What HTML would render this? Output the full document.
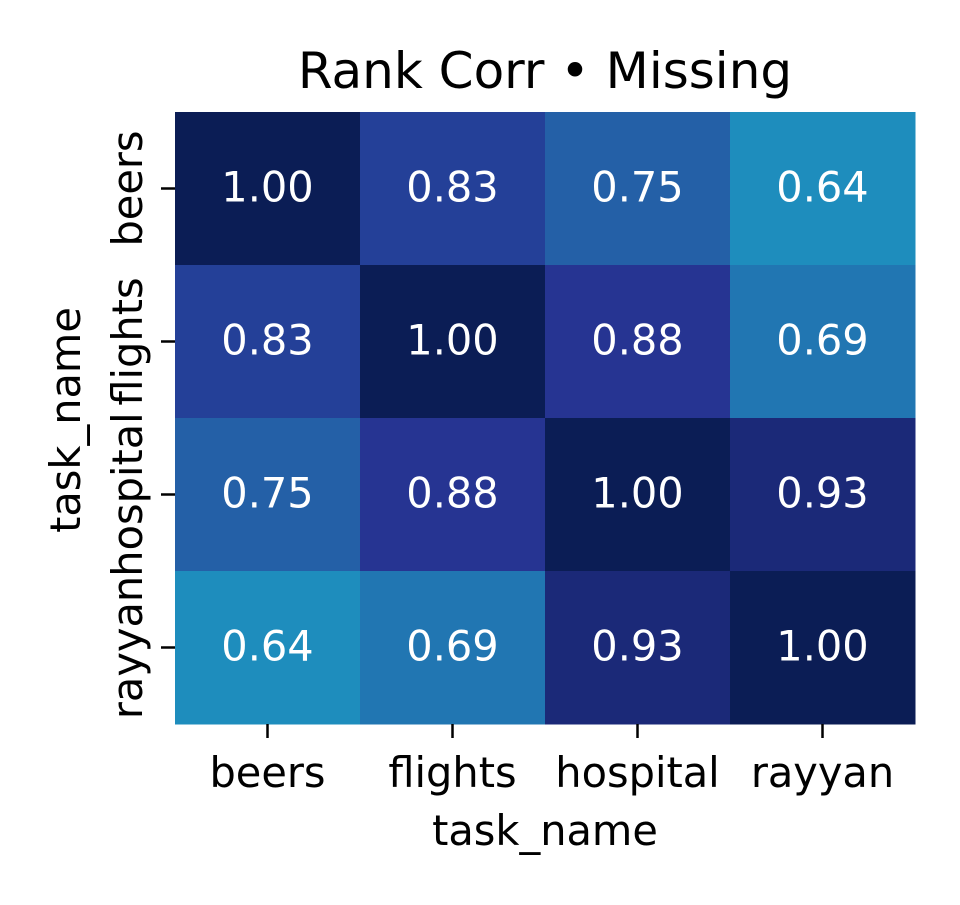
<!DOCTYPE html>
<html><head><meta charset="utf-8"><style>
body{margin:0;background:#fff;}
svg text{font-family:"DejaVu Sans","Liberation Sans",sans-serif;}
</style></head><body>
<svg id="chart" width="960" height="900" viewBox="0 0 960 900">
<rect width="960" height="900" fill="#fff"/>
<text x="545" y="88" font-size="50" text-anchor="middle" fill="#000">Rank Corr • Missing</text>
<g id="cells"></g>
<g id="xticks"></g>
<g id="yticks"></g>
<text x="545" y="845" font-size="41.5" text-anchor="middle" fill="#000">task_name</text>
<text transform="translate(80,420) rotate(-90)" font-size="41.5" text-anchor="middle" fill="#000">task_name</text>
</svg>
<script>
const categories = ["beers","flights","hospital","rayyan"];
const values = [
  [1.00,0.83,0.75,0.64],
  [0.83,1.00,0.88,0.69],
  [0.75,0.88,1.00,0.93],
  [0.64,0.69,0.93,1.00]
];
const NS="http://www.w3.org/2000/svg";
const X0=175,Y0=112,W=740,H=612;
const cw=W/categories.length, ch=H/categories.length;
const xPos=i=>X0+i*cw, yPos=i=>Y0+i*ch;
const stops=[[0.60,[36,155,192]],[0.64,[30,141,189]],[0.69,[33,118,178]],[0.75,[36,96,167]],[0.83,[36,64,152]],[0.88,[38,52,146]],[0.93,[27,41,120]],[1.00,[11,29,85]]];
function color(v){
  if(v<=stops[0][0]) return `rgb(${stops[0][1]})`;
  for(let i=1;i<stops.length;i++){
    if(v<=stops[i][0]){
      const a=stops[i-1],b=stops[i],t=(v-a[0])/(b[0]-a[0]);
      const c=a[1].map((x,k)=>Math.round(x+(b[1][k]-x)*t));
      return `rgb(${c})`;
    }
  }
  return `rgb(${stops[stops.length-1][1]})`;
}
const cells=document.getElementById('cells');
values.forEach((row,r)=>row.forEach((v,c)=>{
  const rect=document.createElementNS(NS,'rect');
  rect.setAttribute('x',xPos(c));rect.setAttribute('y',yPos(r));
  rect.setAttribute('width',cw+0.5);rect.setAttribute('height',ch+0.5);
  rect.setAttribute('fill',color(v));
  
  
  cells.appendChild(rect);
  const t=document.createElementNS(NS,'text');
  t.setAttribute('x',xPos(c)+cw/2);t.setAttribute('y',yPos(r)+ch/2+13);
  t.setAttribute('text-anchor','middle');t.setAttribute('font-size','41.5');t.setAttribute('fill','#fff');
  t.textContent=v.toFixed(2);
  
  
  cells.appendChild(t);
}));
const xt=document.getElementById('xticks'), yt=document.getElementById('yticks');
categories.forEach((name,i)=>{
  const cx=xPos(i)+cw/2;
  const l=document.createElementNS(NS,'line');
  l.setAttribute('x1',cx);l.setAttribute('x2',cx);l.setAttribute('y1',Y0+H);l.setAttribute('y2',Y0+H+14);
  l.setAttribute('stroke','#000');l.setAttribute('stroke-width','2.5');
  
  
  xt.appendChild(l);
  const t=document.createElementNS(NS,'text');
  t.setAttribute('x',cx);t.setAttribute('y',787);t.setAttribute('text-anchor','middle');t.setAttribute('font-size','41.5');
  t.textContent=name;
  
  
  xt.appendChild(t);
  const cy=yPos(i)+ch/2;
  const l2=document.createElementNS(NS,'line');
  l2.setAttribute('x1',X0-14);l2.setAttribute('x2',X0);l2.setAttribute('y1',cy);l2.setAttribute('y2',cy);
  l2.setAttribute('stroke','#000');l2.setAttribute('stroke-width','2.5');
  
  
  yt.appendChild(l2);
  const t2=document.createElementNS(NS,'text');
  t2.setAttribute('transform',`translate(142,${cy}) rotate(-90)`);
  t2.setAttribute('text-anchor','middle');t2.setAttribute('font-size','41.5');
  t2.textContent=name;
  
  
  yt.appendChild(t2);
});
</script>
</body></html>
